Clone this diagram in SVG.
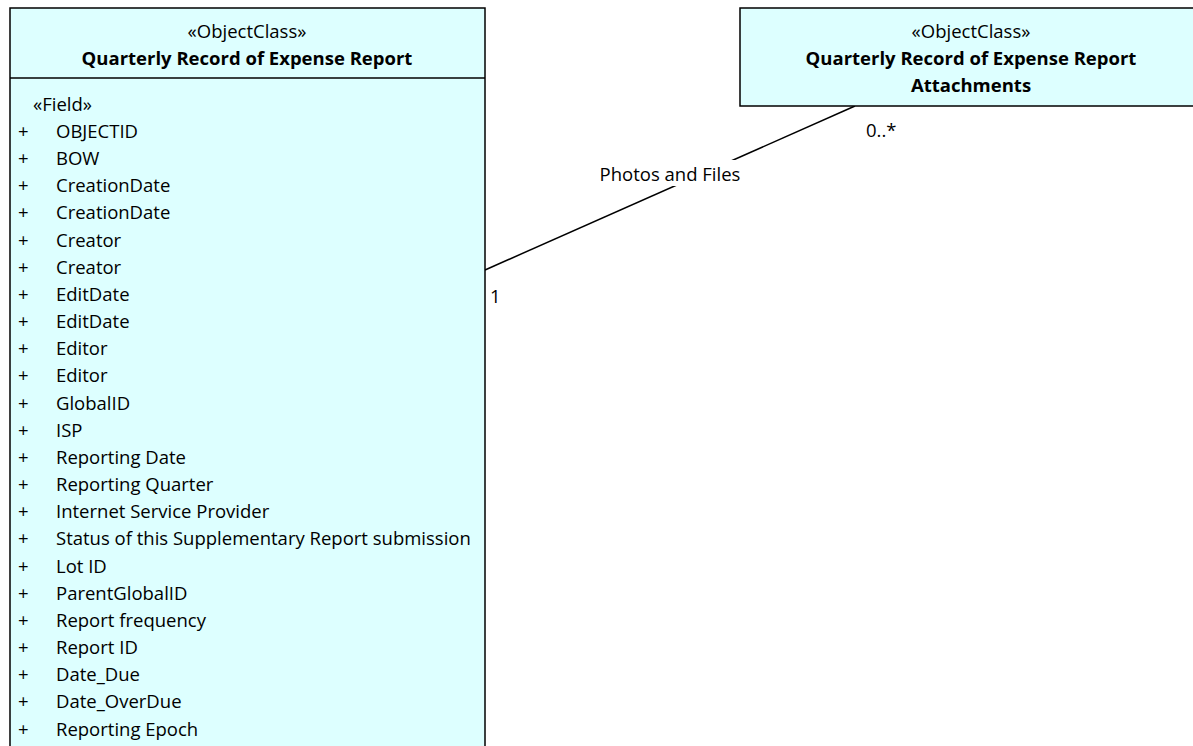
<svg xmlns="http://www.w3.org/2000/svg" width="1193" height="746" viewBox="0 0 1193 746">
<style>
.box{fill:#DDFFFF;stroke:#000;stroke-width:1.5}
.t{font-family:"Open Sans","Liberation Sans",sans-serif;font-size:18.5px;fill:#000}
.b{font-weight:bold}
.c{text-anchor:middle}
.ln{stroke:#000;stroke-width:1.5;fill:none}
</style>
<rect width="1193" height="746" fill="#fff"/>
<g id="connectors">
<line class="ln" x1="485" y1="270" x2="855" y2="106"/>
<rect x="598" y="160" width="144" height="26" fill="#fff"/>
<text class="t c" x="670" y="181">Photos and Files</text>
<text class="t" x="490" y="303">1</text>
<text class="t" x="866" y="137">0..*</text>
</g>
<g id="node-report">
<rect class="box" x="10" y="8" width="475" height="760"/>
<line class="ln" x1="10" y1="78" x2="485" y2="78"/>
<text class="t c" x="247" y="38">«ObjectClass»</text>
<text class="t c b" x="247" y="65">Quarterly Record of Expense Report</text>
<text class="t" x="33" y="111">«Field»</text>
<g class="t">
<text x="18" y="138">+</text><text x="56" y="138">OBJECTID</text>
<text x="18" y="165">+</text><text x="56" y="165">BOW</text>
<text x="18" y="192">+</text><text x="56" y="192">CreationDate</text>
<text x="18" y="219">+</text><text x="56" y="219">CreationDate</text>
<text x="18" y="247">+</text><text x="56" y="247">Creator</text>
<text x="18" y="274">+</text><text x="56" y="274">Creator</text>
<text x="18" y="301">+</text><text x="56" y="301">EditDate</text>
<text x="18" y="328">+</text><text x="56" y="328">EditDate</text>
<text x="18" y="355">+</text><text x="56" y="355">Editor</text>
<text x="18" y="382">+</text><text x="56" y="382">Editor</text>
<text x="18" y="410">+</text><text x="56" y="410">GlobalID</text>
<text x="18" y="437">+</text><text x="56" y="437">ISP</text>
<text x="18" y="464">+</text><text x="56" y="464">Reporting Date</text>
<text x="18" y="491">+</text><text x="56" y="491">Reporting Quarter</text>
<text x="18" y="518">+</text><text x="56" y="518">Internet Service Provider</text>
<text x="18" y="545">+</text><text x="56" y="545">Status of this Supplementary Report submission</text>
<text x="18" y="573">+</text><text x="56" y="573">Lot ID</text>
<text x="18" y="600">+</text><text x="56" y="600">ParentGlobalID</text>
<text x="18" y="627">+</text><text x="56" y="627">Report frequency</text>
<text x="18" y="654">+</text><text x="56" y="654">Report ID</text>
<text x="18" y="681">+</text><text x="56" y="681">Date_Due</text>
<text x="18" y="708">+</text><text x="56" y="708">Date_OverDue</text>
<text x="18" y="736">+</text><text x="56" y="736">Reporting Epoch</text>
</g>
</g>
<g id="node-attachments">
<rect class="box" x="740" y="8" width="462" height="98"/>
<text class="t c" x="971" y="38">«ObjectClass»</text>
<text class="t c b" x="971" y="65">Quarterly Record of Expense Report</text>
<text class="t c b" x="971" y="92">Attachments</text>
</g>
</svg>
